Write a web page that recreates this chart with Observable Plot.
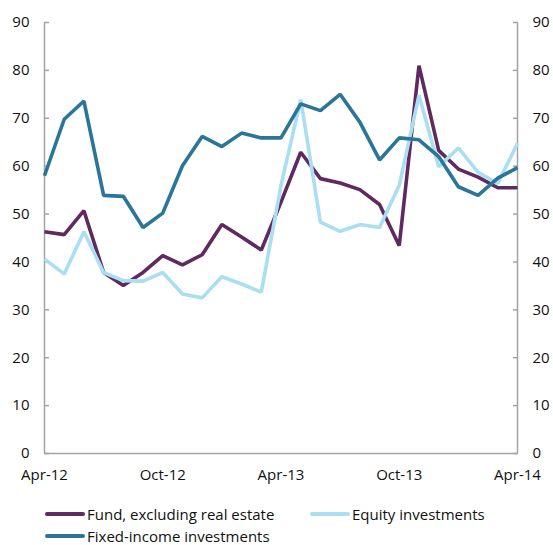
<!DOCTYPE html>
<html>
<head>
<meta charset="utf-8">
<script src="https://cdn.jsdelivr.net/npm/d3@7"></script>
<script src="https://cdn.jsdelivr.net/npm/@observablehq/plot@0.6"></script>
<style>
  html, body { margin: 0; padding: 0; background: #fff; }
  #wrap { width: 553px; font-family: "Open Sans", Lato, sans-serif; color: #111; }
  .legend { position: relative; height: 55px; font-size: 15px; }
  .item { position: absolute; display: flex; align-items: center; white-space: nowrap; line-height: 16px; height: 16px; }
  .sw { width: 40px; height: 4px; border-radius: 2px; margin-right: 2px; }
</style>
</head>
<body>
<div id="wrap"></div>
<script>
const months = ["Apr-12","May-12","Jun-12","Jul-12","Aug-12","Sep-12","Oct-12","Nov-12","Dec-12","Jan-13","Feb-13","Mar-13","Apr-13","May-13","Jun-13","Jul-13","Aug-13","Sep-13","Oct-13","Nov-13","Dec-13","Jan-14","Feb-14","Mar-14","Apr-14"];
const fund = [46.3, 45.7, 50.7, 37.8, 35.1, 37.8, 41.3, 39.4, 41.5, 47.8, 45.2, 42.5, 52.5, 62.9, 57.4, 56.5, 55.1, 52.0, 43.4, 81.0, 63.3, 59.4, 57.7, 55.5, 55.5];
const equity = [40.6, 37.5, 46.3, 37.8, 36.1, 36.0, 37.8, 33.3, 32.5, 36.9, 35.4, 33.7, 56.0, 73.9, 48.3, 46.4, 47.8, 47.2, 56.0, 74.8, 59.9, 63.8, 58.7, 56.4, 64.8];
const fixedIncome = [58.0, 69.8, 73.6, 53.9, 53.7, 47.2, 50.2, 60.1, 66.2, 64.1, 66.9, 65.9, 65.9, 73.0, 71.6, 75.0, 69.2, 61.3, 65.9, 65.5, 62.0, 55.7, 53.9, 57.5, 59.7];
const tickLabels = ["Apr-12","Oct-12","Apr-13","Oct-13","Apr-14"];
const seriesNames = ["Fund, excluding real estate", "Equity investments", "Fixed-income investments"];
const colors = ["#5e2a60", "#aadff2", "#2b7598"];
const yTicks = [0,10,20,30,40,50,60,70,80,90];

const rows = [];
[fund, equity, fixedIncome].forEach((arr, s) => arr.forEach((v, i) => rows.push({i, v, s: seriesNames[s]})));

const labelPos = tickLabels.map(l => months.indexOf(l));
const gray = "#a3a3a3";
const font = "'Open Sans', Lato, sans-serif";

const chart = Plot.plot({
  width: 553,
  height: 490,
  marginLeft: 44,
  marginRight: 36,
  marginTop: 22,
  marginBottom: 37,
  style: {fontFamily: font, fontSize: "15px", color: "#111", background: "#fff"},
  x: {domain: [0, 24]},
  y: {domain: [0, 90]},
  color: {domain: seriesNames, range: colors},
  marks: [
    Plot.axisY(yTicks, {anchor: "left", tickSize: -5, tickPadding: 20, stroke: gray, strokeWidth: 1.5, label: null, fontSize: 15}),
    Plot.axisY(yTicks, {anchor: "right", tickSize: -5, tickPadding: 20, stroke: gray, strokeWidth: 1.5, label: null, fontSize: 15}),
    Plot.axisX(labelPos, {anchor: "bottom", tickSize: 0, tickPadding: 16, tickFormat: (d, k) => tickLabels[k], label: null, fontSize: 15}),
    Plot.ruleX([0, 24], {stroke: gray, strokeWidth: 1.5}),
    Plot.ruleY([0], {stroke: gray, strokeWidth: 1.5}),
    Plot.line(rows, {x: "i", y: "v", z: "s", stroke: "s", strokeWidth: 3.6, strokeLinejoin: "miter", strokeLinecap: "butt"})
  ]
});

const wrap = document.getElementById("wrap");
wrap.appendChild(chart);
const legend = document.createElement("div");
legend.className = "legend";
const legendPos = [[45, 24], [310, 24], [45, 46]];
seriesNames.forEach((name, k) => {
  const it = document.createElement("div");
  it.className = "item";
  it.style.left = legendPos[k][0] + "px";
  it.style.top = (legendPos[k][1] - 8) + "px";
  const sw = document.createElement("span");
  sw.className = "sw";
  sw.style.background = colors[k];
  const tx = document.createElement("span");
  tx.textContent = name;
  it.appendChild(sw); it.appendChild(tx);
  legend.appendChild(it);
});
wrap.appendChild(legend);
</script>
</body>
</html>
